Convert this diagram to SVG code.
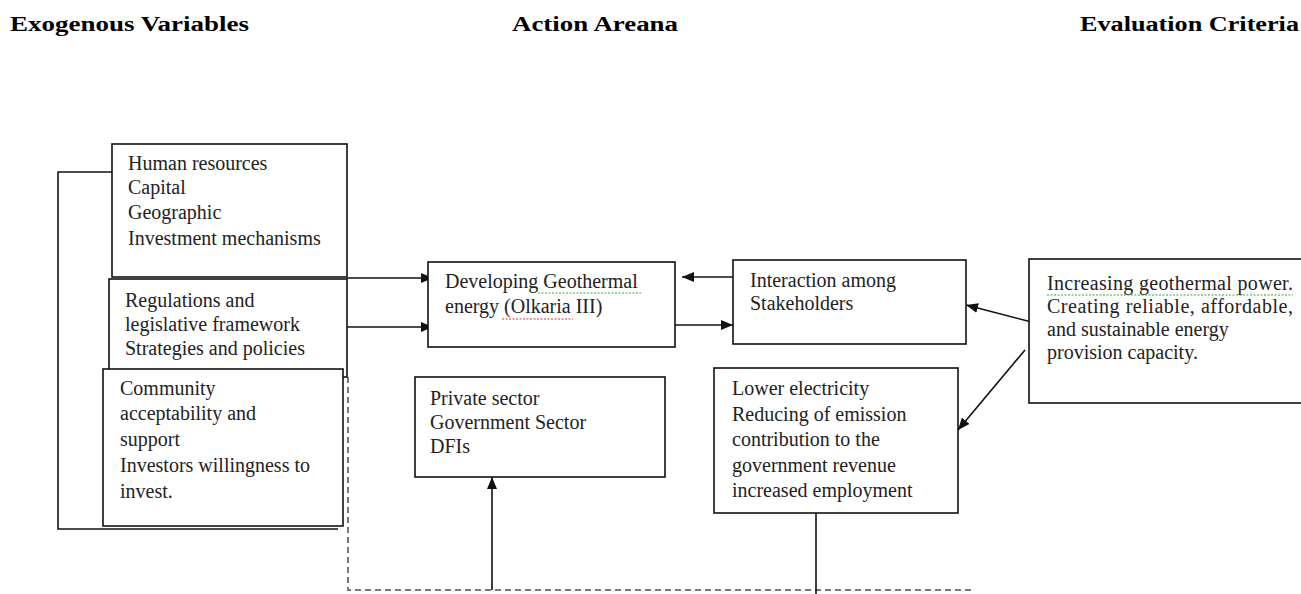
<svg xmlns="http://www.w3.org/2000/svg" width="1301" height="594" viewBox="0 0 1301 594">
<style>
.box{fill:#fff;stroke:#111;stroke-width:1.6}
.t{font-family:"Liberation Serif","Times New Roman",serif;font-size:20px;fill:#222}
.h{font-family:"Liberation Serif","Times New Roman",serif;font-size:20px;font-weight:bold;fill:#000}
.c{fill:none;stroke:#111;stroke-width:1.6}
.d{fill:none;stroke:#777;stroke-width:2;stroke-dasharray:6 4}
.sg{fill:none;stroke:#3a3;stroke-width:1;stroke-dasharray:2 1.5}
.sr{fill:none;stroke:#d33;stroke-width:1;stroke-dasharray:2 1.5}
</style>
<defs>
<marker id="ah" markerWidth="12" markerHeight="10" refX="12" refY="5" orient="auto" markerUnits="userSpaceOnUse">
<path d="M0,0 L12,5 L0,10 z" fill="#111"/>
</marker>
</defs>

<g id="titles">
<text class="h" x="10" y="31" textLength="239" lengthAdjust="spacingAndGlyphs">Exogenous Variables</text>
<text class="h" x="512" y="31" textLength="166" lengthAdjust="spacingAndGlyphs">Action Areana</text>
<text class="h" x="1080" y="31" textLength="219" lengthAdjust="spacingAndGlyphs">Evaluation Criteria</text>
</g>

<g id="connectors">
<path class="c" d="M112,172 H58 V529 H338"/>
<path class="c" d="M347,278 H433" marker-end="url(#ah)"/>
<path class="c" d="M347,327 H433" marker-end="url(#ah)"/>
<path class="c" d="M733,277 H682" marker-end="url(#ah)"/>
<path class="c" d="M675,325 H733" marker-end="url(#ah)"/>
<path class="c" d="M1043,325 L966,305" marker-end="url(#ah)"/>
<path class="c" d="M1025,350 L958,430" marker-end="url(#ah)"/>
<path class="d" d="M348,377 V590 H973"/>
<path class="c" d="M492,590 V477" marker-end="url(#ah)"/>
<path class="c" d="M816,513 V594"/>
</g>

<g id="resources">
<rect class="box" x="112" y="144" width="235" height="133"/>
<text class="t" x="128" y="170">Human resources</text>
<text class="t" x="128" y="194">Capital</text>
<text class="t" x="128" y="219">Geographic</text>
<text class="t" x="128" y="245">Investment mechanisms</text>
</g>

<g id="regulations">
<rect class="box" x="109" y="279" width="238" height="98"/>
<text class="t" x="125" y="307">Regulations and</text>
<text class="t" x="125" y="331">legislative framework</text>
<text class="t" x="125" y="355">Strategies and policies</text>
</g>

<g id="community">
<rect class="box" x="103" y="369" width="240" height="157"/>
<text class="t" x="120" y="395">Community</text>
<text class="t" x="120" y="420">acceptability and</text>
<text class="t" x="120" y="446">support</text>
<text class="t" x="120" y="472">Investors willingness to</text>
<text class="t" x="120" y="498">invest.</text>
</g>

<g id="developing">
<rect class="box" x="428" y="262" width="247" height="85"/>
<text class="t" x="445" y="288">Developing Geothermal</text>
<text class="t" x="445" y="313">energy (Olkaria III)</text>
<path class="sg" d="M538,293 H641"/>
<path class="sr" d="M502,319 H573"/>
</g>

<g id="interaction">
<rect class="box" x="733" y="260" width="233" height="84"/>
<text class="t" x="750" y="287">Interaction among</text>
<text class="t" x="750" y="310">Stakeholders</text>
</g>

<g id="actors">
<rect class="box" x="415" y="377" width="250" height="100"/>
<text class="t" x="430" y="405">Private sector</text>
<text class="t" x="430" y="429">Government Sector</text>
<text class="t" x="430" y="453">DFIs</text>
</g>

<g id="outcomes">
<rect class="box" x="714" y="368" width="244" height="145"/>
<text class="t" x="732" y="395">Lower electricity</text>
<text class="t" x="732" y="421">Reducing of emission</text>
<text class="t" x="732" y="446">contribution to the</text>
<text class="t" x="732" y="472">government revenue</text>
<text class="t" x="732" y="497">increased employment</text>
</g>

<g id="criteria">
<rect class="box" x="1029" y="259" width="290" height="144"/>
<text class="t" x="1047" y="290" textLength="246" lengthAdjust="spacing">Increasing geothermal power.</text>
<text class="t" x="1047" y="313" textLength="246" lengthAdjust="spacing">Creating reliable, affordable,</text>
<text class="t" x="1047" y="336">and sustainable energy</text>
<text class="t" x="1047" y="359">provision capacity.</text>
<path class="sg" d="M1047,295 H1293"/>
</g>
</svg>
